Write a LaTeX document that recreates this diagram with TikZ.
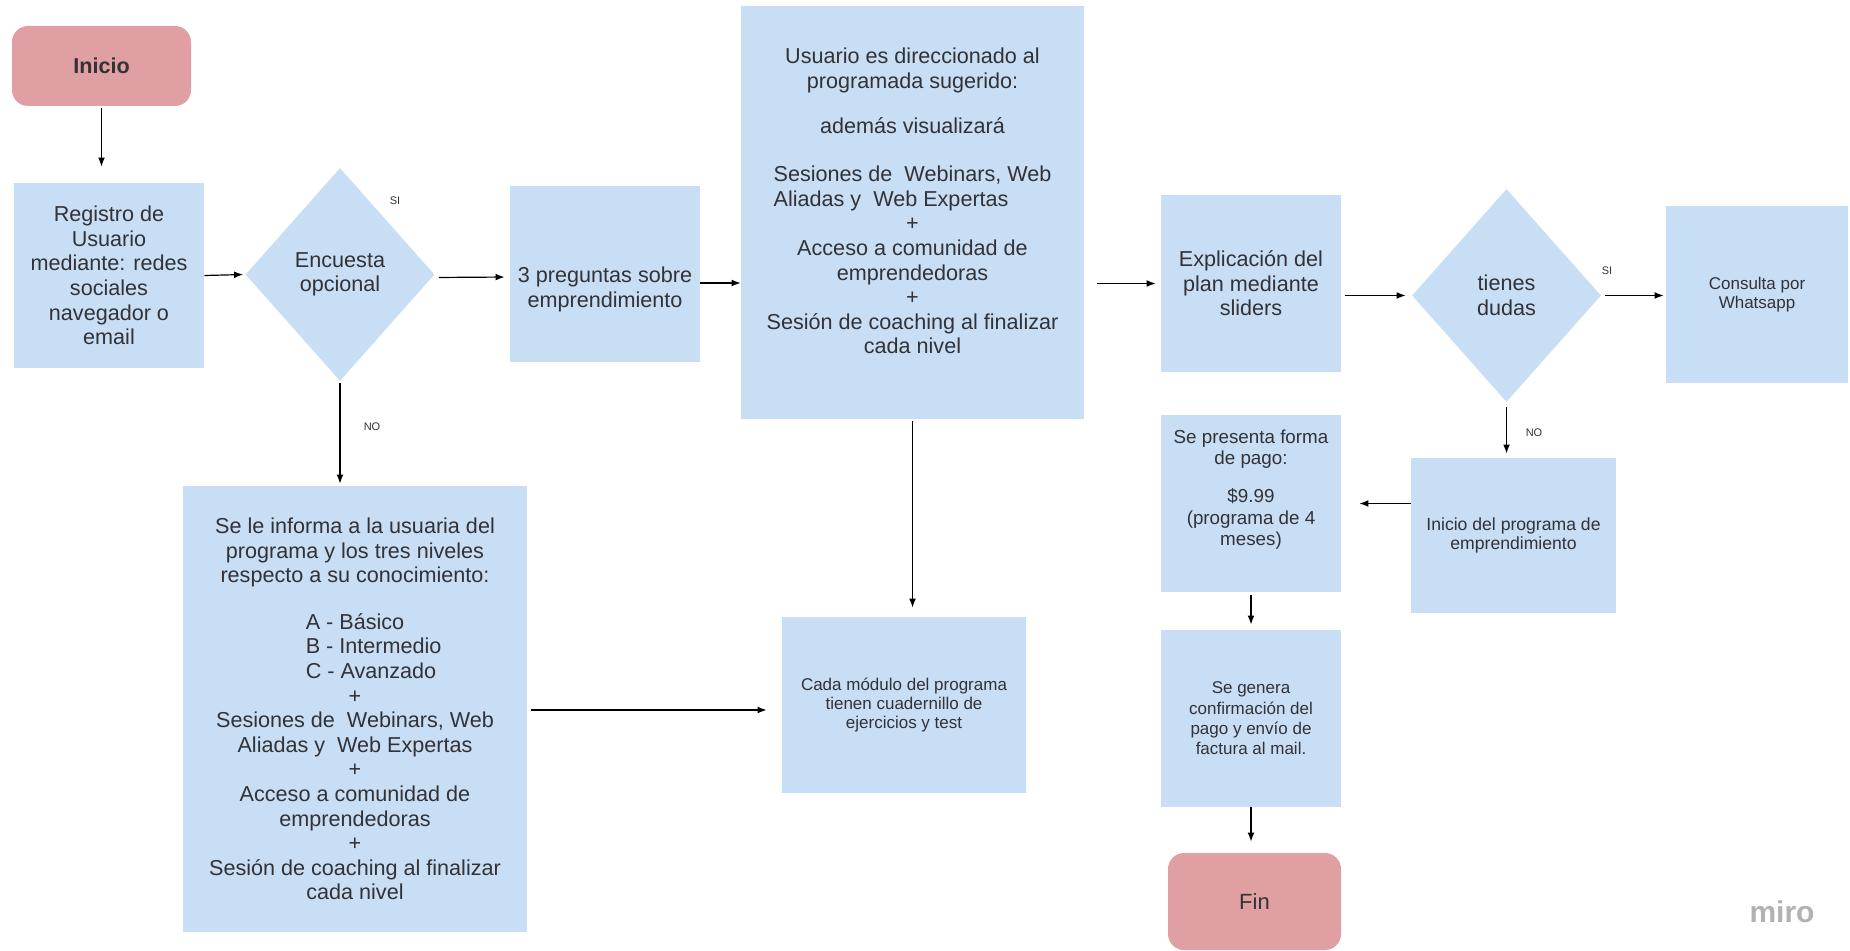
\documentclass[tikz,border=0pt]{standalone}
\usepackage{fontspec}
\setmainfont{Liberation Sans}
\usetikzlibrary{shapes.geometric,arrows.meta}
\definecolor{bleuMiro}{RGB}{199,222,245}
\definecolor{roseMiro}{RGB}{224,159,162}
\definecolor{texteMiro}{RGB}{50,50,55}
\tikzset{%
    Etape node/.style={%
        fill=bleuMiro,
        text=texteMiro,
        align=center,
        inner sep=2pt,
        font=\fontsize{10.8}{12.3}\selectfont
    },
    Etape petite/.style={%
        Etape node,
        font=\fontsize{8.5}{9.5}\selectfont
    },
    Test node/.style={%
        Etape node,
        diamond,
        inner sep=0pt,
        minimum width=94.5pt,
        minimum height=106.5pt
    },
    Borne node/.style={%
        fill=roseMiro,
        text=texteMiro,
        rounded corners=8pt,
        minimum width=87pt,
        font=\fontsize{10.8}{12.3}\selectfont
    },
    Rep node/.style={%
        text=texteMiro,
        inner sep=1pt,
        font=\fontsize{5.5}{6}\selectfont
    },
    Flux arrow/.style={%
        -{Latex[length=4.5pt,width=3.4pt]},
        line width=.6pt
    }
}

\begin{document}
\begin{tikzpicture}[x=.5pt,y=-.5pt]
\useasboundingbox (0,0) rectangle (1850,951);

% etapes
\node[Borne node,minimum width=89.5pt,minimum height=40pt,
      font=\fontsize{10.8}{12.3}\selectfont\bfseries] (inicio) at (101.5,66) {Inicio};
\node[Etape node,minimum width=95pt,minimum height=92.5pt] (registro) at (109,275.5)
    {Registro de\\Usuario\\mediante: redes\\sociales\\navegador o\\email};
\node[Test node] (encuesta) at (340,274.5) {Encuesta\\opcional};
\node[Etape node,minimum width=95pt,minimum height=88pt] (preguntas) at (605,274)
    {\mbox{}\\[10.7pt]3 preguntas sobre\\emprendimiento};
\node[Etape node,minimum width=171.5pt,minimum height=206.5pt] (usuario) at (912.5,212.5)
    {Usuario es direccionado al\\programada sugerido:\\[10pt]
     además visualizará\\[12pt]
     Sesiones de\ \ Webinars, Web\\
     \rlap{Aliadas y\ \ Web Expertas}\hphantom{Sesiones de\ \ Webinars, Web}\\
     +\\Acceso a comunidad de\\emprendedoras\\+\\
     Sesión de coaching al finalizar\\cada nivel\\[-0.8pt]\mbox{}};
\node[Etape node,minimum width=90pt,minimum height=88.5pt] (explication) at (1251,283.5)
    {Explicación del\\plan mediante\\sliders};
\node[Test node] (dudas) at (1506.5,295.5) {tienes\\dudas};
\node[Etape petite,minimum width=91pt,minimum height=88.5pt,
      font=\fontsize{8.5}{9.2}\selectfont] (consulta) at (1757,294.5)
    {Consulta por\\Whatsapp};
\node[Etape petite,minimum width=102.5pt,minimum height=77.5pt,
      font=\fontsize{8.8}{9.7}\selectfont] (programa) at (1513.5,535.5)
    {Inicio del programa de\\emprendimiento};
\node[Etape petite,minimum width=90pt,minimum height=88.5pt,
      font=\fontsize{9.4}{10.75}\selectfont] (presenta) at (1251,503.5)
    {Se presenta forma\\de pago:\\[8.4pt]\$9.99\\(programa de 4\\meses)\\[5pt]\mbox{}};
\node[Etape petite,minimum width=90pt,minimum height=88.5pt,
      font=\fontsize{8.5}{10.2}\selectfont] (genera) at (1251,718.5)
    {Se genera\\confirmación del\\pago y envío de\\factura al mail.};
\node[Borne node,minimum width=86.5pt,minimum height=48.5pt,
      font=\fontsize{11}{12.5}\selectfont] (fin) at (1254.5,901.5) {Fin};
\node[Etape node,minimum width=172pt,minimum height=223pt] (informa) at (355,709)
    {Se le informa a la usuaria del\\programa y los tres niveles\\
     respecto a su conocimiento:\\[11pt]
     A - Básico\\
     \rlap{B - Intermedio}\hphantom{A - Básico}\\
     \rlap{C - Avanzado}\hphantom{A - Básico}\\
     +\\Sesiones de\ \ Webinars, Web\\Aliadas y\ \ Web Expertas\\
     +\\Acceso a comunidad de\\emprendedoras\\+\\
     Sesión de coaching al finalizar\\cada nivel};
\node[Etape petite,minimum width=122pt,minimum height=88pt] (modulo) at (904,705)
    {Cada módulo del programa\\tienen cuadernillo de\\ejercicios y test};

% reponses
\node[Rep node] (si-a) at (395,201) {SI};
\node[Rep node] (no-a) at (372,427) {NO};
\node[Rep node] (si-b) at (1607,271) {SI};
\node[Rep node] (no-b) at (1534,433) {NO};

\node[text=black!30,font=\fontsize{15}{16}\selectfont\bfseries] (miro) at (1782,912) {miro};

% fleches
\draw[Flux arrow,shorten <=1pt,shorten >=8pt] (inicio.south) -- (inicio.south |- registro.north);
\draw[Flux arrow,shorten >=1pt] (registro.east) -- (encuesta.west);
\draw[Flux arrow,shorten <=2pt,shorten >=2.5pt] ([yshift=-1.5pt]encuesta.east) -- ([yshift=-1.5pt]preguntas.west);
\draw[Flux arrow] ([yshift=-4.5pt]preguntas.east) -- ([yshift=-4.5pt]preguntas.east -| usuario.west);
\draw[Flux arrow,shorten <=6.5pt,shorten >=2.5pt] (explication.west -| usuario.east) -- (explication.west);
\draw[Flux arrow,shorten <=2pt,shorten >=3pt] (dudas.west -| explication.east) -- (dudas.west);
\draw[Flux arrow,shorten <=2pt,shorten >=1pt] (dudas.east) -- (dudas.east -| consulta.west);
\draw[Flux arrow,shorten <=2.5pt,shorten >=2pt] (dudas.south) -- (dudas.south |- programa.north);
\draw[Flux arrow,shorten >=9pt] (programa.west |- presenta.east) -- (presenta.east);
\draw[Flux arrow,shorten <=1.5pt,shorten >=2.5pt] (presenta.south) -- (genera.north);
\draw[Flux arrow,shorten >=5.5pt] (genera.south) -- (genera.south |- fin.north);
\draw[Flux arrow,shorten <=1pt,shorten >=1pt] (encuesta.south) -- (encuesta.south |- informa.north);
\draw[Flux arrow,shorten <=2pt,shorten >=7.5pt] ([yshift=-2.5pt]modulo.west -| informa.east) -- ([yshift=-2.5pt]modulo.west);
\draw[Flux arrow,shorten <=1pt,shorten >=4.5pt] (usuario.south) -- (usuario.south |- modulo.north);

\end{tikzpicture}
\end{document}
